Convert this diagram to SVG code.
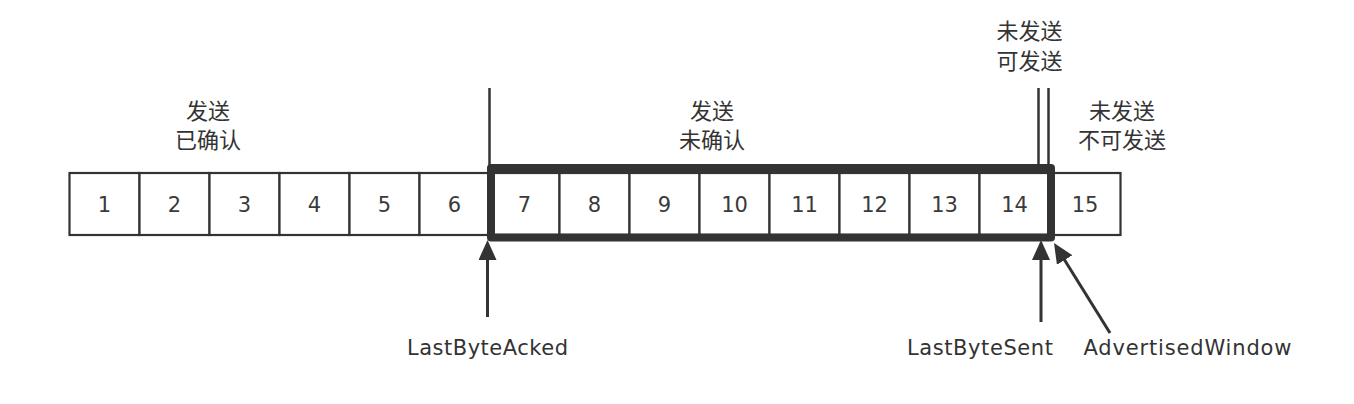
<svg xmlns="http://www.w3.org/2000/svg" width="1354" height="404" viewBox="0 0 1354 404">
<style>
.cell{fill:#fff;stroke:#333;stroke-width:2.2}
.num{font-family:"DejaVu Sans",sans-serif;font-size:21px;fill:#3a3a3a;text-anchor:middle}
.cjk{font-family:"Noto Sans CJK SC",sans-serif;font-size:22px;fill:#333;text-anchor:middle}
.lbl{font-family:"DejaVu Sans",sans-serif;font-size:21px;fill:#333;text-anchor:middle}
.vline{stroke:#333;stroke-width:2.5;fill:none}
.arrow{stroke:#333;stroke-width:3;fill:none;marker-end:url(#arr)}
</style>
<defs>
<marker id="arr" viewBox="0 0 20 18" refX="10" refY="9" markerWidth="20" markerHeight="18" orient="auto" markerUnits="userSpaceOnUse">
<path d="M0,0 L20,9 L0,18 Z" fill="#333"/>
</marker>
</defs>
<rect width="1354" height="404" fill="#fff"/>
<g id="cells">
<g id="cell1"><rect class="cell" x="69.5" y="173" width="70" height="62"/><text class="num" x="104.5" y="211.5">1</text></g>
<g id="cell2"><rect class="cell" x="139.5" y="173" width="70" height="62"/><text class="num" x="174.5" y="211.5">2</text></g>
<g id="cell3"><rect class="cell" x="209.5" y="173" width="70" height="62"/><text class="num" x="244.5" y="211.5">3</text></g>
<g id="cell4"><rect class="cell" x="279.5" y="173" width="70" height="62"/><text class="num" x="314.5" y="211.5">4</text></g>
<g id="cell5"><rect class="cell" x="349.5" y="173" width="70" height="62"/><text class="num" x="384.5" y="211.5">5</text></g>
<g id="cell6"><rect class="cell" x="419.5" y="173" width="70" height="62"/><text class="num" x="454.5" y="211.5">6</text></g>
<g id="cell7"><rect class="cell" x="489.5" y="173" width="70" height="62"/><text class="num" x="524.5" y="211.5">7</text></g>
<g id="cell8"><rect class="cell" x="559.5" y="173" width="70" height="62"/><text class="num" x="594.5" y="211.5">8</text></g>
<g id="cell9"><rect class="cell" x="629.5" y="173" width="70" height="62"/><text class="num" x="664.5" y="211.5">9</text></g>
<g id="cell10"><rect class="cell" x="699.5" y="173" width="70" height="62"/><text class="num" x="734.5" y="211.5">10</text></g>
<g id="cell11"><rect class="cell" x="769.5" y="173" width="70" height="62"/><text class="num" x="804.5" y="211.5">11</text></g>
<g id="cell12"><rect class="cell" x="839.5" y="173" width="70" height="62"/><text class="num" x="874.5" y="211.5">12</text></g>
<g id="cell13"><rect class="cell" x="909.5" y="173" width="70" height="62"/><text class="num" x="944.5" y="211.5">13</text></g>
<g id="cell14"><rect class="cell" x="979.5" y="173" width="70" height="62"/><text class="num" x="1014.5" y="211.5">14</text></g>
<g id="cell15"><rect class="cell" x="1050" y="173" width="70.5" height="62"/><text class="num" x="1085" y="211.5">15</text></g>
</g>
<g id="window">
<rect x="491" y="168" width="560" height="69.5" fill="none" stroke="#333" stroke-width="8" stroke-linejoin="round"/>
</g>
<g id="markers-lines">
<line class="vline" x1="489.5" y1="88" x2="489.5" y2="168"/>
<line class="vline" x1="1038.5" y1="88" x2="1038.5" y2="168"/>
<line class="vline" x1="1048.5" y1="88" x2="1048.5" y2="168"/>
</g>
<g id="labels">
<text class="cjk" x="208" y="118.5">发送</text>
<text class="cjk" x="208" y="147.5">已确认</text>
<text class="cjk" x="712" y="118.5">发送</text>
<text class="cjk" x="712" y="147.5">未确认</text>
<text class="cjk" x="1029.5" y="39">未发送</text>
<text class="cjk" x="1029.5" y="68.5">可发送</text>
<text class="cjk" x="1122" y="118.5">未发送</text>
<text class="cjk" x="1122" y="147.5">不可发送</text>
</g>
<g id="connectors">
<line class="arrow" x1="487.5" y1="317" x2="487.5" y2="250"/>
<line class="arrow" x1="1041" y1="322" x2="1041" y2="250"/>
<line class="arrow" x1="1110" y1="333" x2="1059.3" y2="251.5"/>
</g>
<g id="pointer-labels">
<text class="lbl" x="487.5" y="355" textLength="161" lengthAdjust="spacing">LastByteAcked</text>
<text class="lbl" x="980" y="355" textLength="146" lengthAdjust="spacing">LastByteSent</text>
<text class="lbl" x="1187.5" y="355" textLength="208" lengthAdjust="spacing">AdvertisedWindow</text>
</g>
</svg>
